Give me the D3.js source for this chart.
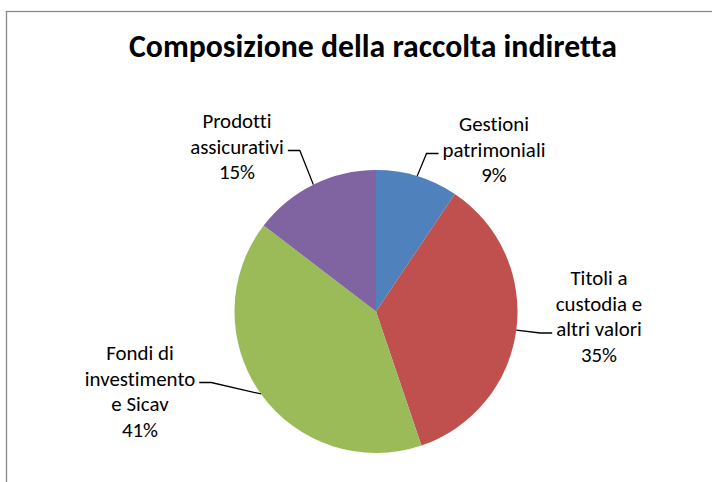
<!DOCTYPE html>
<html><head><meta charset="utf-8">
<script src="https://cdn.jsdelivr.net/npm/d3@7"></script>
<style>body{margin:0;background:#fff}svg{display:block}text{font-variant-ligatures:none;font-feature-settings:"liga" 0}</style>
</head><body>
<svg id="chart" width="712" height="482"></svg>
<script>
// ---- data ----
const categories = ["Gestioni patrimoniali", "Titoli a custodia e altri valori", "Fondi di investimento e Sicav", "Prodotti assicurativi"];
const labelLines = [["Gestioni", "patrimoniali"], ["Titoli a", "custodia e", "altri valori"], ["Fondi di", "investimento", "e Sicav"], ["Prodotti", "assicurativi"]];
const values = [9.4, 35.4, 40.6, 14.6];
const colors = ["#4F81BD", "#C0504D", "#9BBB59", "#8064A2"];
const titleText = "Composizione della raccolta indiretta";

// ---- layout ----
const W = 712, H = 482;
const cx = 376, cy = 311.5, R = 141.5;
const FONT = "Carlito, Lato, 'Open Sans', sans-serif";
const lineGap = 25.5;
const labelLayout = [
  {x: 494, y: 131, attach: 1, side: "left"},
  {x: 599, y: 285, attach: 2, side: "left"},
  {x: 140, y: 360, attach: 1, side: "right"},
  {x: 237, y: 128, attach: 1, side: "right"}
];

const svg = d3.select("#chart");
svg.append("rect").attr("width", W).attr("height", H).attr("fill", "#fff");
svg.append("rect").attr("x", 6.5).attr("y", 11.5).attr("width", 800).attr("height", 600)
  .attr("fill", "none").attr("stroke", "#888").attr("stroke-width", 1.3);

// fit font sizes to measured reference widths
function measure(txt, size, weight) {
  const t = svg.append("text").attr("font-family", FONT).attr("font-size", size)
    .attr("font-weight", weight).text(txt);
  const w = t.node().getComputedTextLength();
  t.remove();
  return w;
}
const labelSize = 20 * 103 / measure("patrimoniali", 20, "normal");
const titleSize = 30 * 488 / measure(titleText, 30, "bold");

svg.append("text").attr("x", 373).attr("y", 57).attr("text-anchor", "middle")
  .attr("font-family", FONT).attr("font-weight", "bold").attr("font-size", titleSize)
  .attr("fill", "#000").text(titleText);

const total = d3.sum(values);
const pie = d3.pie().sort(null).value(d => d)(values);
const arc = d3.arc().innerRadius(0).outerRadius(R);
const edge = d3.arc().innerRadius(R).outerRadius(R);
const fmt = d3.format(".0%");

const g = svg.append("g").attr("transform", `translate(${cx},${cy})`);
g.selectAll("path.slice").data(pie).join("path").attr("class", "slice")
  .attr("d", arc).attr("fill", (d, i) => colors[i]);

// labels + leader lines
pie.forEach((d, i) => {
  const L = labelLayout[i];
  const lines = labelLines[i].concat([fmt(values[i] / total)]);
  const t = svg.append("text").attr("text-anchor", "middle")
    .attr("font-family", FONT).attr("font-size", labelSize).attr("fill", "#000");
  lines.forEach((s, k) => {
    t.append("tspan").attr("x", L.x).attr("y", L.y + k * lineGap).text(s);
  });
  const wLine = measure(lines[L.attach], labelSize, "normal");
  const ly = L.y + L.attach * lineGap - 3;
  const endX = L.side === "left" ? L.x - wLine / 2 - 4 : L.x + wLine / 2 + 4;
  const elbowX = L.side === "left" ? endX - 12 : endX + 12;
  const p = edge.centroid(d);
  const pts = [[cx + p[0], cy + p[1]], [elbowX, ly], [endX, ly]];
  svg.append("path").attr("d", d3.line()(pts)).attr("fill", "none")
    .attr("stroke", "#000").attr("stroke-width", 1.3);
});
</script>
</body></html>
